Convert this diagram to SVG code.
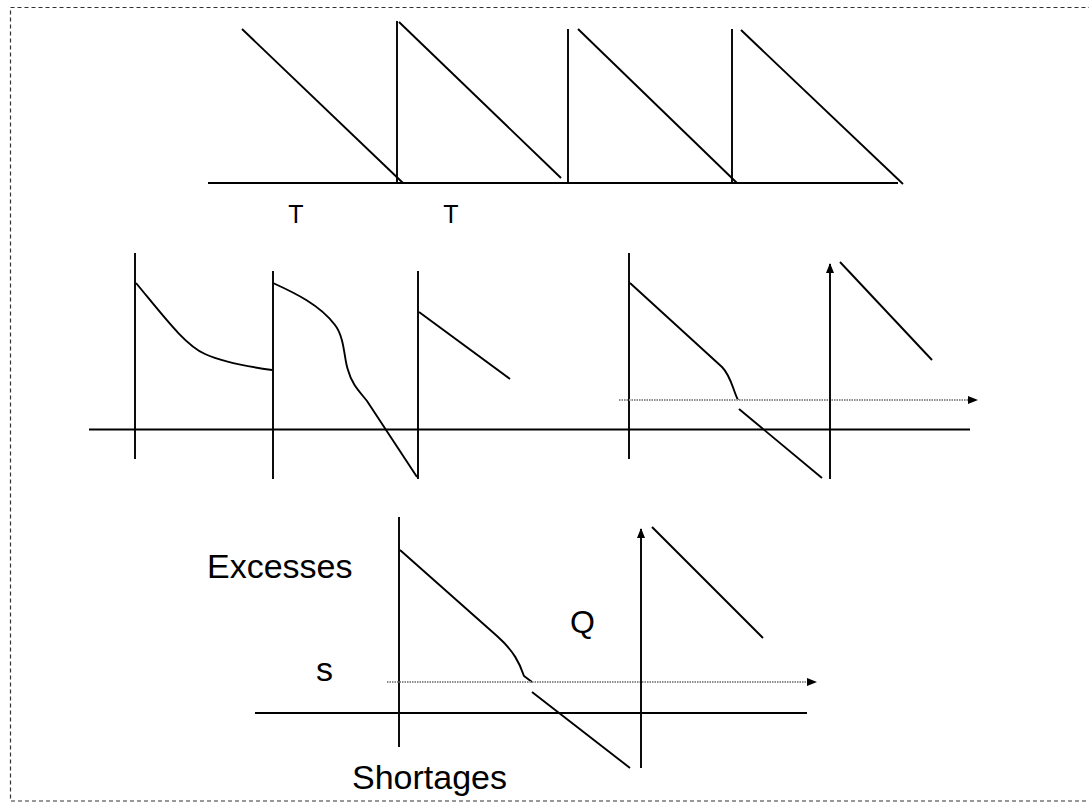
<svg xmlns="http://www.w3.org/2000/svg" width="1089" height="802" viewBox="0 0 1089 802">
<style>
.ln{fill:none;stroke:#000;stroke-width:1.9;stroke-linecap:butt;stroke-linejoin:round}
.dot{fill:none;stroke:#8c8c8c;stroke-width:2.2;stroke-dasharray:1.5 1}
.lbl{font-family:"Liberation Sans",Arial,sans-serif;fill:#000}
</style>
<defs>
<marker id="ah" markerWidth="10" markerHeight="8" refX="9" refY="4" orient="auto" markerUnits="userSpaceOnUse">
<path d="M0,0 L10,4 L0,8 Z" fill="#000"/>
</marker>
</defs>
<rect x="10.5" y="7.5" width="1100" height="793.5" fill="#fff" stroke="#333" stroke-width="1.2" stroke-dasharray="4 3"/>

<g id="top-panel">
<line class="ln" x1="208" y1="183" x2="898" y2="183"/>
<line class="ln" x1="242" y1="29" x2="403" y2="183"/>
<line class="ln" x1="397" y1="21" x2="397" y2="183"/>
<line class="ln" x1="399" y1="22" x2="561" y2="178"/>
<line class="ln" x1="568" y1="29" x2="568" y2="183"/>
<line class="ln" x1="578" y1="29" x2="737" y2="183"/>
<line class="ln" x1="732" y1="29" x2="732" y2="183"/>
<line class="ln" x1="741" y1="30" x2="903" y2="184"/>
<text class="lbl" x="296" y="223" font-size="25" text-anchor="middle">T</text>
<text class="lbl" x="451" y="223" font-size="25" text-anchor="middle">T</text>
</g>

<g id="middle-left">
<line class="ln" x1="89" y1="429.5" x2="970" y2="429.5"/>
<line class="ln" x1="135" y1="253" x2="135" y2="459"/>
<path class="ln" d="M136,283 C165,318 185,345 205,354 C225,363 250,367 272,370"/>
<line class="ln" x1="273" y1="271" x2="273" y2="479"/>
<path class="ln" d="M273,283 C295,293 320,305 335,325 C345,338 344,360 348,370 C352,385 360,392 367,401 L417,477"/>
<line class="ln" x1="418" y1="271" x2="418" y2="479"/>
<line class="ln" x1="419" y1="312" x2="510" y2="379"/>
</g>

<g id="middle-right">
<line class="ln" x1="629" y1="253" x2="629" y2="459"/>
<path class="ln" d="M630,283 L722,367 C731,376 733,390 738,400"/>
<line class="dot" x1="619" y1="400" x2="970" y2="400"/>
<path d="M968,396 L978,400 L968,404 Z" fill="#000"/>
<line class="ln" x1="739" y1="409" x2="822" y2="478"/>
<line class="ln" x1="830" y1="479" x2="830" y2="264" marker-end="url(#ah)"/>
<line class="ln" x1="840" y1="262" x2="932" y2="360"/>
</g>

<g id="bottom-panel">
<line class="ln" x1="255" y1="713" x2="807" y2="713"/>
<line class="ln" x1="399" y1="517" x2="399" y2="747"/>
<path class="ln" d="M400,550 L497,636 C514,651 520,664 524,676 L532,682"/>
<line class="dot" x1="387" y1="682" x2="810" y2="682"/>
<path d="M807,678 L817,682 L807,686 Z" fill="#000"/>
<line class="ln" x1="532" y1="692" x2="630" y2="768"/>
<line class="ln" x1="641" y1="768" x2="641" y2="529" marker-end="url(#ah)"/>
<line class="ln" x1="652" y1="527" x2="763" y2="638"/>
<text class="lbl" x="207" y="578" font-size="34">Excesses</text>
<text class="lbl" x="570" y="633" font-size="32">Q</text>
<text class="lbl" x="316" y="681" font-size="34">s</text>
<text class="lbl" x="352" y="789" font-size="34">Shortages</text>
</g>
</svg>
